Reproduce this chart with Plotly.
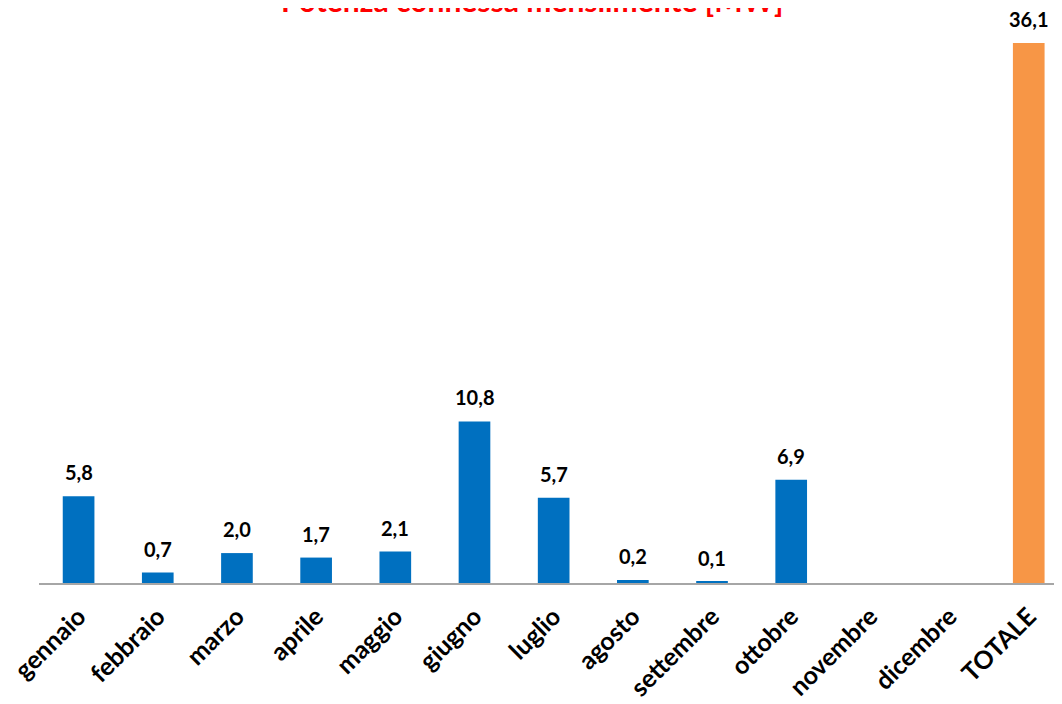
import plotly.graph_objects as go

categories = ["gennaio", "febbraio", "marzo", "aprile", "maggio", "giugno", "luglio",
              "agosto", "settembre", "ottobre", "novembre", "dicembre", "TOTALE"]
values = [5.8, 0.7, 2.0, 1.7, 2.1, 10.8, 5.7, 0.2, 0.1, 6.9, None, None, 36.1]
labels = ["5,8", "0,7", "2,0", "1,7", "2,1", "10,8", "5,7", "0,2", "0,1", "6,9", "", "", "36,1"]
colors = ["#0070C0"] * 12 + ["#F79646"]
title_text = "Potenza connessa mensilmente [MW]"

FONT = "Lato"
W, H = 1054, 696          # page body has an 8px margin
plot_left = 31
plot_top, plot_bottom = 35, 575

fig = go.Figure()
fig.add_trace(go.Bar(
    x=categories, y=values, marker_color=colors, marker_line_width=0,
    width=0.4, hoverinfo="skip",
))

for c, v, t in zip(categories, values, labels):
    if v is None or not t:
        continue
    fig.add_annotation(x=c, y=v, text=t, showarrow=False, yanchor="middle",
                       yshift=24, font=dict(family=FONT, size=20, color="#000000", weight="bold"))

fig.add_annotation(xref="paper", yref="paper", x=0.482,
                   y=(plot_bottom + 8) / (plot_bottom - plot_top),
                   text=title_text, showarrow=False, yanchor="middle",
                   font=dict(family=FONT, size=30, color="#FF0000", weight="bold"))

fig.update_layout(
    width=W, height=H,
    margin=dict(l=plot_left, r=0, t=plot_top, b=H - plot_bottom, pad=0, autoexpand=False),
    paper_bgcolor="white", plot_bgcolor="white",
    showlegend=False, bargap=0.6,
    font=dict(family=FONT),
)
fig.update_xaxes(
    type="category", range=[-0.5, 12.42], automargin=False,
    showline=True, linecolor="#A6A6A6", linewidth=2,
    showgrid=False, ticks="outside", ticklen=7, tickcolor="rgba(0,0,0,0)", tickangle=-45,
    tickfont=dict(family=FONT, size=25, color="#000000", weight="bold"),
)
fig.update_yaxes(range=[0, 36.1], visible=False, showgrid=False, zeroline=False)

fig.write_html("out.html")
